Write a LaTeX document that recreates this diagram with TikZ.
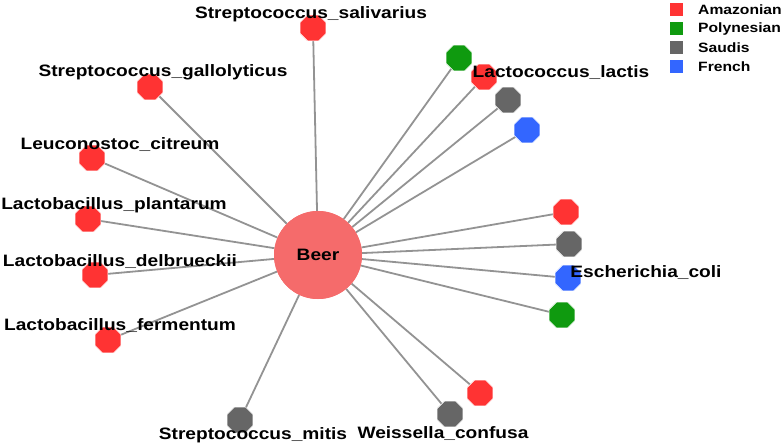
\documentclass[tikz,border=0pt]{standalone}
\usepackage{fontspec}
\setmainfont{Liberation Sans}[FakeStretch=1.16]
\usetikzlibrary{shapes.geometric}
\definecolor{cred}{HTML}{FF3333}
\definecolor{cgreen}{HTML}{0F9A0F}
\definecolor{cgray}{HTML}{666666}
\definecolor{cblue}{HTML}{3366FF}
\definecolor{cbeer}{HTML}{F56B6B}
\begin{document}
\begin{tikzpicture}[x=1pt,y=-1pt,
  oct/.style={regular polygon,regular polygon sides=8,minimum size=28pt,inner sep=0pt,draw=white,line width=0.4pt},
  edge/.style={draw=gray!85,line width=1.8pt},
  lbl/.style={font=\bfseries\fontsize{16.5}{18}\selectfont,inner sep=0pt},
  leg/.style={minimum size=13pt,inner sep=0pt},
  legt/.style={font=\bfseries\fontsize{13.5}{15}\selectfont,anchor=west,inner sep=0pt}]
\useasboundingbox (0,0) rectangle (781,446);
\node[circle,fill=cbeer,minimum size=88pt,inner sep=0pt] (beer) at (318,255) {};
\node[oct,fill=cred] (sal) at (313,28) {};
\node[oct,fill=cred] (gal) at (150,87) {};
\node[oct,fill=cred] (cit) at (92,158) {};
\node[oct,fill=cred] (pla) at (88,219) {};
\node[oct,fill=cred] (del) at (95,275) {};
\node[oct,fill=cred] (fer) at (108,340) {};
\node[oct,fill=cgray] (mit) at (240,420) {};
\node[oct,fill=cgray] (con1) at (450,414) {};
\node[oct,fill=cred] (con2) at (480,393) {};
\node[oct,fill=cred] (ec1) at (566,212) {};
\node[oct,fill=cgray] (ec2) at (569,244) {};
\node[oct,fill=cblue] (ec3) at (568,278) {};
\node[oct,fill=cgreen] (ec4) at (562,315) {};
\node[oct,fill=cgreen] (la1) at (459,58) {};
\node[oct,fill=cred] (la2) at (484,77) {};
\node[oct,fill=cgray] (la3) at (508,100) {};
\node[oct,fill=cblue] (la4) at (527,130) {};
\foreach \n in {sal,gal,cit,pla,del,fer,mit,con1,con2,ec1,ec2,ec3,ec4,la1,la2,la3,la4}
  \draw[edge] (beer) -- (\n);
\node[circle,fill=cbeer,minimum size=88pt,inner sep=0pt] at (318,255) {};
\node[lbl] at (318,255) {Beer};
\foreach \n/\c in {sal/cred,gal/cred,cit/cred,pla/cred,del/cred,fer/cred,mit/cgray,con1/cgray,con2/cred,ec1/cred,ec2/cgray,ec3/cblue,ec4/cgreen,la1/cgreen,la2/cred,la3/cgray,la4/cblue}
  \node[oct,fill=\c] at (\n) {};
\node[lbl] (tsal) at (311,14) {Streptococcus\_salivarius};
\node[lbl] (tgal) at (163,72) {Streptococcus\_gallolyticus};
\node[lbl] (tcit) at (120,145) {Leuconostoc\_citreum};
\node[lbl] (tpla) at (114,205) {Lactobacillus\_plantarum};
\node[lbl] (tdel) at (120,262) {Lactobacillus\_delbrueckii};
\node[lbl] (tfer) at (120,326) {Lactobacillus\_fermentum};
\node[lbl] (tmit) at (253,435) {Streptococcus\_mitis};
\node[lbl] (tcon) at (443,434) {Weissella\_confusa};
\node[lbl] (tec) at (646,273) {Escherichia\_coli};
\node[lbl] (tla) at (561,73) {Lactococcus\_lactis};
\foreach \c/\t/\y in {cred/Amazonians/10,cgreen/Polynesians/29,cgray/Saudis/48,cblue/French/67}{
  \node[leg,fill=\c] (s\t) at (676,\y) {};
  \node[legt] at (698,\y) {\t};
}
\end{tikzpicture}
\end{document}
